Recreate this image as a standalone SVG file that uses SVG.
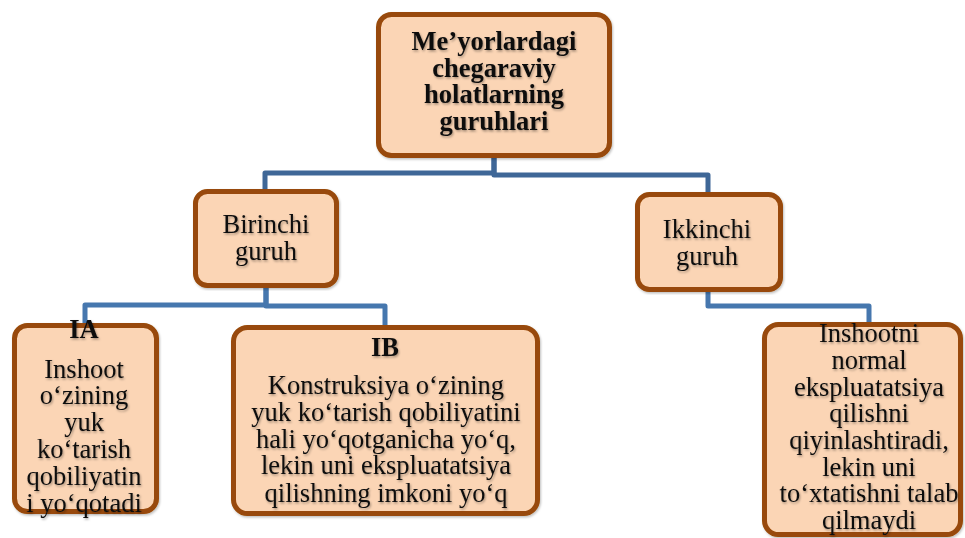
<svg xmlns="http://www.w3.org/2000/svg" width="965" height="538" viewBox="0 0 965 538">
<defs>
<filter id="ts" x="-10%" y="-10%" width="120%" height="130%">
<feDropShadow dx="1" dy="1.5" stdDeviation="1" flood-color="#000" flood-opacity="0.35"/>
</filter>
<filter id="bs" x="-5%" y="-5%" width="110%" height="110%">
<feDropShadow dx="1" dy="1.5" stdDeviation="1.2" flood-color="#000" flood-opacity="0.25"/>
</filter>
</defs>
<style>
.box{fill:#FBD5B5;stroke:#984807;stroke-width:5;filter:url(#bs)}
.t{font-family:"Liberation Serif","Times New Roman",serif;font-size:26.5px;fill:#111;text-anchor:middle;filter:url(#ts)}
.b{font-weight:bold}
.c1{fill:none;stroke:#3F6797;stroke-width:5;stroke-linejoin:round}
.c2{fill:none;stroke:#4677AE;stroke-width:5;stroke-linejoin:round}
</style>
<rect width="965" height="538" fill="#fff"/>
<g id="connectors">
<path class="c1" d="M494,157 V173 H265 V191"/>
<path class="c1" d="M494,157 V175 H708 V194"/>
<path class="c2" d="M266,286 V305 H85 V325"/>
<path class="c2" d="M266,286 V306 H385 V327"/>
<path class="c2" d="M708,290 V306 H869 V324"/>
</g>
<g id="node-root">
<rect class="box" x="378.5" y="14.5" width="231" height="141" rx="13"/>
<text class="t b"><tspan x="494" y="50">Me’yorlardagi</tspan><tspan x="494" y="77">chegaraviy</tspan><tspan x="494" y="103">holatlarning</tspan><tspan x="494" y="130">guruhlari</tspan></text>
</g>
<g id="node-birinchi">
<rect class="box" x="195.5" y="191.5" width="141" height="94" rx="12"/>
<text class="t"><tspan x="266" y="233">Birinchi</tspan><tspan x="266" y="260">guruh</tspan></text>
</g>
<g id="node-ikkinchi">
<rect class="box" x="637.5" y="194.5" width="143" height="95" rx="12"/>
<text class="t"><tspan x="707" y="238">Ikkinchi</tspan><tspan x="707" y="265">guruh</tspan></text>
</g>
<g id="node-ia">
<rect class="box" x="14.5" y="325.5" width="142" height="186" rx="13"/>
<text class="t"><tspan class="b" x="84" y="338">IA</tspan><tspan x="84" y="378">Inshoot</tspan><tspan x="84" y="404">o‘zining</tspan><tspan x="84" y="431">yuk</tspan><tspan x="84" y="458">ko‘tarish</tspan><tspan x="84" y="485">qobiliyatin</tspan><tspan x="84" y="512">i yo‘qotadi</tspan></text>
</g>
<g id="node-ib">
<rect class="box" x="233.5" y="327.5" width="304" height="186" rx="14"/>
<text class="t"><tspan class="b" x="385" y="356">IB</tspan><tspan x="386" y="394">Konstruksiya o‘zining</tspan><tspan x="386" y="421">yuk ko‘tarish qobiliyatini</tspan><tspan x="386" y="448">hali yo‘qotganicha yo‘q,</tspan><tspan x="386" y="474">lekin uni ekspluatatsiya</tspan><tspan x="386" y="502">qilishning imkoni yo‘q</tspan></text>
</g>
<g id="node-right">
<rect class="box" x="764.5" y="324.5" width="196" height="210" rx="14"/>
<text class="t"><tspan x="869" y="342">Inshootni</tspan><tspan x="869" y="369">normal</tspan><tspan x="869" y="396">ekspluatatsiya</tspan><tspan x="869" y="422">qilishni</tspan><tspan x="869" y="449">qiyinlashtiradi,</tspan><tspan x="869" y="476">lekin uni</tspan><tspan x="869" y="502">to‘xtatishni talab</tspan><tspan x="869" y="529">qilmaydi</tspan></text>
</g>
</svg>
